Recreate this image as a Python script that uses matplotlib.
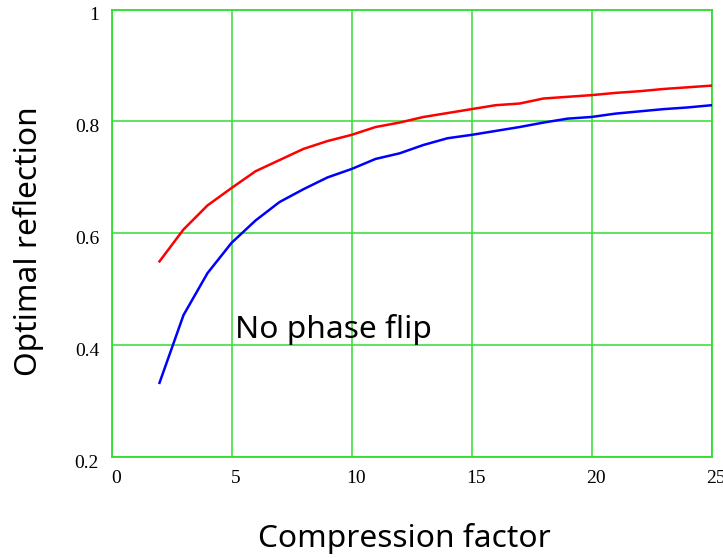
import matplotlib
matplotlib.use("Agg")
import matplotlib.pyplot as plt
from matplotlib.transforms import ScaledTranslation

compression = [2, 3, 4, 5, 6, 7, 8, 9, 10, 11, 12, 13, 14, 15, 16, 17, 18, 19, 20, 21, 22, 23, 24, 25]
reflection_red = [0.550, 0.607, 0.650, 0.681, 0.711, 0.731, 0.751, 0.765, 0.776, 0.790, 0.798, 0.808,
                  0.815, 0.822, 0.829, 0.832, 0.841, 0.844, 0.847, 0.851, 0.854, 0.858, 0.861, 0.864]
reflection_blue = [0.333, 0.454, 0.529, 0.583, 0.623, 0.656, 0.679, 0.700, 0.715, 0.733, 0.743, 0.758,
                   0.770, 0.776, 0.783, 0.790, 0.798, 0.805, 0.808, 0.814, 0.818, 0.822, 0.825, 0.829]
x_ticks = [0, 5, 10, 15, 20, 25]
y_ticks = [0.2, 0.4, 0.6, 0.8, 1.0]
y_tick_labels = ["0.2", "0.4", "0.6", "0.8", "1"]

GREEN = "#33dd33"
label_font = "Noto Sans"
tick_font = "Liberation Serif"

fig = plt.figure(figsize=(7.23, 5.58), dpi=100)
ax = fig.add_axes([111.5 / 723, (558 - 457.3) / 558, 600 / 723, 447.8 / 558])

ax.plot(compression, reflection_red, color="#ff0000", lw=1.8, zorder=3)
ax.plot(compression, reflection_blue, color="#0000ff", lw=1.8, zorder=3)

ax.set_xlim(0, 25)
ax.set_ylim(0.2, 1.0)
ax.set_xticks(x_ticks)
ax.set_xticklabels([str(v) for v in x_ticks], fontfamily=tick_font, fontsize=14)
ax.set_yticks(y_ticks)
ax.set_yticklabels(y_tick_labels, fontfamily=tick_font, fontsize=14)
ax.tick_params(length=0, pad=9)
ax.grid(True, color=GREEN, lw=1.1)
for s in ax.spines.values():
    s.set_color(GREEN)
    s.set_linewidth(1.3)

dx = ScaledTranslation(4.5 / 100, 0, fig.dpi_scale_trans)
for lab in ax.get_xticklabels():
    lab.set_transform(lab.get_transform() + dx)
dy = ScaledTranslation(0, -4 / 100, fig.dpi_scale_trans)
for lab in ax.get_yticklabels():
    lab.set_transform(lab.get_transform() + dy)

ax.text(5.15, 0.413, "No phase flip", fontfamily=label_font, fontsize=22.8, va="baseline", ha="left")

fig.text(404 / 723, 1 - 538 / 558, "Compression factor", fontfamily=label_font, fontsize=22.8,
         ha="center", va="center")
fig.text(29 / 723, 1 - 241 / 558, "Optimal reflection", fontfamily=label_font, fontsize=22.8,
         ha="center", va="center", rotation=90)

fig.savefig("out.png", dpi=100)
